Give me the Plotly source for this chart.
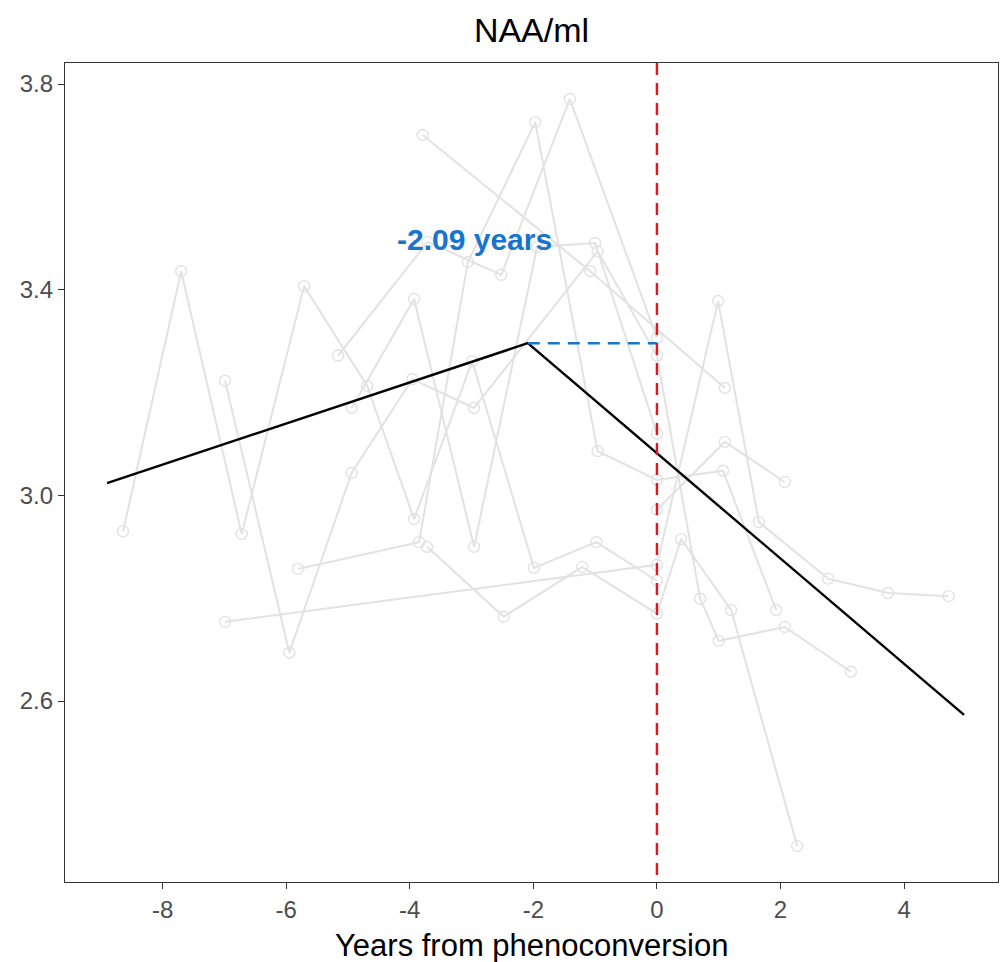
import plotly.graph_objects as go

# Individual trajectories (years from phenoconversion, NAA/ml)
s1_t = [-8.64, -7.70, -6.72, -5.71, -4.69, -3.93, -2.99, -1.99, -0.98, 0.0]
s1_y = [2.930, 3.436, 2.925, 3.407, 3.213, 2.954, 3.261, 2.859, 2.909, 2.834]
s2_t = [-6.99, -5.95, -4.94, -3.96, -2.96, -0.96, 0.0, 0.70, 1.00, 2.07, 3.14]
s2_y = [3.223, 2.694, 3.044, 3.226, 3.170, 3.475, 3.272, 2.799, 2.717, 2.744, 2.657]
s3_t = [-6.99, 0.0, 0.99, 1.65, 2.77, 3.74, 4.72]
s3_y = [2.754, 2.865, 3.378, 2.948, 2.838, 2.810, 2.804]
s4_t = [-5.81, -3.85, -3.06, -1.97, -0.96, 0.0, 1.07, 1.93]
s4_y = [2.857, 2.909, 3.454, 3.726, 3.086, 3.030, 3.048, 2.777]
s5_t = [-5.16, -3.71, -2.52, -1.41, 0.0]
s5_y = [3.272, 3.493, 3.429, 3.771, 3.306]
s6_t = [-4.94, -3.93, -2.96, -1.94, -1.00, 0.0]
s6_y = [3.170, 3.382, 2.900, 3.483, 3.491, 3.120]
s7_t = [-3.79, -1.08, 1.10]
s7_y = [3.701, 3.436, 3.209]
s8_t = [-3.72, -2.48, -1.21, 0.0, 0.39, 1.20, 2.27]
s8_y = [2.900, 2.764, 2.861, 2.770, 2.915, 2.777, 2.318]
s9_t = [0.0, 1.10, 2.07]
s9_y = [2.972, 3.104, 3.026]

# Piecewise (change-point) fit
fit_t = [-8.90, -2.09, 4.97]
fit_y = [3.024, 3.296, 2.573]
changepoint = -2.09
changepoint_y = 3.296
label_text = "-2.09 years"

x_ticks = [-8, -6, -4, -2, 0, 2, 4]
y_ticks = [2.6, 3.0, 3.4, 3.8]

GRAY = "#e2e2e2"
FONT = "Liberation Sans, Arial, sans-serif"

fig = go.Figure()
for t, y in [(s1_t, s1_y), (s2_t, s2_y), (s3_t, s3_y), (s4_t, s4_y), (s5_t, s5_y),
             (s6_t, s6_y), (s7_t, s7_y), (s8_t, s8_y), (s9_t, s9_y)]:
    fig.add_trace(go.Scatter(
        x=t, y=y, mode="lines+markers",
        line=dict(color=GRAY, width=2),
        marker=dict(symbol="circle-open", size=11, color=GRAY, line=dict(width=1.4, color=GRAY)),
        showlegend=False, hoverinfo="skip"))

fig.add_trace(go.Scatter(x=fit_t, y=fit_y, mode="lines",
                         line=dict(color="black", width=2.4), showlegend=False))

fig.add_trace(go.Scatter(x=[changepoint, 0], y=[changepoint_y, changepoint_y], mode="lines",
                         line=dict(color="#1874CD", width=2.4, dash="12px,8px"), showlegend=False))

fig.add_shape(type="line", x0=0, x1=0, xref="x", y0=1, y1=0, yref="paper",
              line=dict(color="#e8141a", width=2.4, dash="12px,8px"))

fig.add_annotation(x=-2.945, y=3.497, text="<b>" + label_text + "</b>", showarrow=False,
                   font=dict(color="#1874CD", size=30, family=FONT))

fig.add_annotation(x=0.5, xref="paper", y=0, yref="paper", yanchor="top", yshift=-44,
                   text="Years from phenoconversion", showarrow=False,
                   font=dict(size=31, color="black", family=FONT))

fig.update_layout(
    width=1000, height=962,
    plot_bgcolor="white", paper_bgcolor="white",
    margin=dict(l=65, r=2, t=63, b=80),
    title=dict(text="NAA/ml", x=0.5315, xref="container", xanchor="center",
               y=1 - 30 / 962, yref="container", yanchor="middle",
               font=dict(size=34, color="black", family=FONT)),
    font=dict(family=FONT),
)
fig.update_xaxes(range=[-9.58, 5.52], tickvals=x_ticks, ticktext=[str(v) for v in x_ticks],
                 showgrid=False, zeroline=False, showline=True, linecolor="#333333", linewidth=1.2,
                 mirror=True, ticks="outside", ticklen=6, tickcolor="#333333", tickwidth=1.2,
                 automargin=False, tickfont=dict(size=24, color="#4d4d4d"))
fig.update_yaxes(range=[2.248, 3.841], tickvals=y_ticks, ticktext=[f"{v:.1f}" for v in y_ticks],
                 showgrid=False, zeroline=False, showline=True, linecolor="#333333", linewidth=1.2,
                 mirror=True, ticks="outside", ticklen=6, tickcolor="#333333", tickwidth=1.2,
                 automargin=False, tickfont=dict(size=24, color="#4d4d4d"))

fig.write_html("out.html", config={"displayModeBar": False},
               post_script="document.body.style.margin='0';")
